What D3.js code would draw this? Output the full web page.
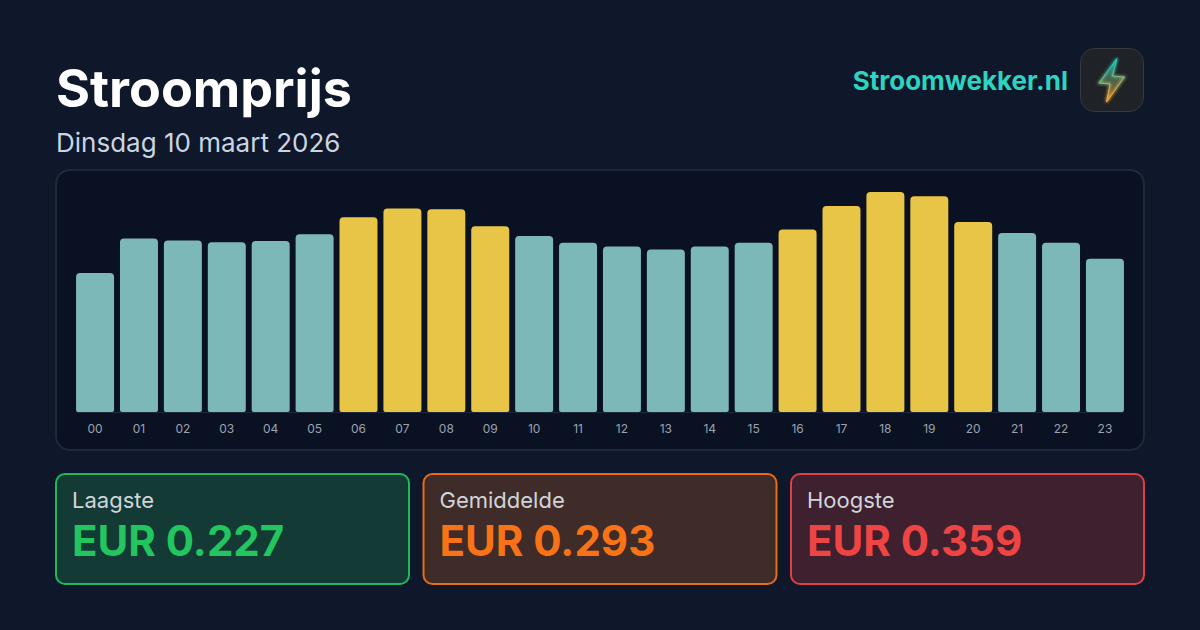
<!DOCTYPE html>
<html><head><meta charset="utf-8">
<script src="https://cdn.jsdelivr.net/npm/d3@7"></script>
<style>html,body{margin:0;padding:0;background:#0f172a;overflow:hidden}svg{display:block}text{font-family:Inter,sans-serif}</style>
</head><body><svg id="c" width="1200" height="630"></svg>
<script>
const hours = ["00","01","02","03","04","05","06","07","08","09","10","11","12","13","14","15","16","17","18","19","20","21","22","23"];
const prices = [0.227,0.283,0.280,0.277,0.279,0.290,0.318,0.332,0.331,0.303,0.287,0.276,0.270,0.265,0.270,0.276,0.298,0.336,0.359,0.352,0.310,0.292,0.276,0.250];
const highlighted = ["06","07","08","09","16","17","18","19","20"];
const title = "Stroomprijs", subtitle = "Dinsdag 10 maart 2026", brand = "Stroomwekker.nl";
const statLabels = ["Laagste","Gemiddelde","Hoogste"];
const statValues = ["EUR 0.227","EUR 0.293","EUR 0.359"];
const statColors = ["#22c55e","#f97316","#ef4444"];
const statFills = ["#133a35","#3f2c29","#3f202e"];

const svg = d3.select("#c");
const defs = svg.append("defs");
svg.append("rect").attr("width",1200).attr("height",630).attr("fill","#0f172a");

svg.append("text").attr("x",56).attr("y",107).attr("font-size",52).attr("font-weight",700).attr("fill","#fff").text(title);
svg.append("text").attr("x",56).attr("y",152).attr("font-size",26).attr("fill","#cbd5e1").text(subtitle);
svg.append("text").attr("x",1068).attr("y",90).attr("text-anchor","end").attr("font-size",26).attr("font-weight",700).attr("fill","#2dd4bf").text(brand);

// logo
svg.append("rect").attr("x",1080.5).attr("y",48.5).attr("width",63).attr("height",63).attr("rx",14).attr("fill","#1f2226").attr("stroke","#363a3f");
const lg = defs.append("linearGradient").attr("id","bolt").attr("gradientUnits","userSpaceOnUse").attr("x1",1105).attr("y1",62).attr("x2",1115).attr("y2",100);
lg.append("stop").attr("offset",0.15).attr("stop-color","#2dd4bf");
lg.append("stop").attr("offset",0.85).attr("stop-color","#fbb03b");
const fl = defs.append("filter").attr("id","glow").attr("x","-50%").attr("y","-50%").attr("width","200%").attr("height","200%");
fl.append("feGaussianBlur").attr("stdDeviation",1.5);
const boltD = "M1117 58.5 L1099 83 L1110 84 L1106.5 102 L1124.5 77 L1112.5 76 Z";
svg.append("path").attr("d",boltD).attr("fill","none").attr("stroke","url(#bolt)").attr("stroke-width",2.2).attr("stroke-opacity",0.8).attr("filter","url(#glow)");
svg.append("path").attr("d",boltD).attr("fill","url(#bolt)").attr("fill-opacity",0.4).attr("stroke","url(#bolt)").attr("stroke-width",0.9);

// chart panel
svg.append("rect").attr("x",56).attr("y",170).attr("width",1088).attr("height",280).attr("rx",14).attr("fill","#0a1122").attr("stroke","#1e293b").attr("stroke-width",2);

const x = d3.scaleBand().domain(hours).range([73,1127]).paddingInner(0.135).paddingOuter(0.07);
const y = d3.scaleLinear().domain([0,0.359]).range([412,192]);
const r = 4;
svg.append("line").attr("x1",76).attr("x2",1124).attr("y1",412.5).attr("y2",412.5).attr("stroke","#1e293b");
svg.append("g").selectAll("path").data(hours).join("path")
  .attr("d",(h,i)=>{
    const x0=x(h),w=x.bandwidth(),t=y(prices[i]),b=y(0);
    const p=d3.path();
    p.moveTo(x0,b-2);p.lineTo(x0,t+r);p.arcTo(x0,t,x0+r,t,r);p.lineTo(x0+w-r,t);p.arcTo(x0+w,t,x0+w,t+r,r);p.lineTo(x0+w,b-2);p.arcTo(x0+w,b,x0+w-2,b,2);p.lineTo(x0+2,b);p.arcTo(x0,b,x0,b-2,2);p.closePath();
    return p.toString();
  })
  .attr("fill",h=>highlighted.includes(h)?"#e8c547":"#7db8b8");

const axis = svg.append("g").attr("transform","translate(0,412)").call(d3.axisBottom(x).tickSize(0).tickPadding(12.5));
axis.select(".domain").remove();
axis.selectAll("text").attr("font-size",12).attr("fill","#9ca3af").attr("font-family","Inter,sans-serif");

// stat cards
const cardX = d3.scalePoint().domain(statLabels).range([56,791]);
const cards = svg.append("g").selectAll("g").data(statLabels).join("g").attr("transform",d=>`translate(${cardX(d)},474)`);
cards.append("rect").attr("width",353).attr("height",110).attr("rx",9).attr("fill",(d,i)=>statFills[i]).attr("stroke",(d,i)=>statColors[i]).attr("stroke-opacity",0.92).attr("stroke-width",2);
cards.append("text").attr("x",16).attr("y",34).attr("font-size",22).attr("fill","#d1d5db").text(d=>d);
cards.append("text").attr("x",16).attr("y",82).attr("font-size",42).attr("font-weight",700).attr("fill",(d,i)=>statColors[i]).text((d,i)=>statValues[i]);
</script></body></html>
